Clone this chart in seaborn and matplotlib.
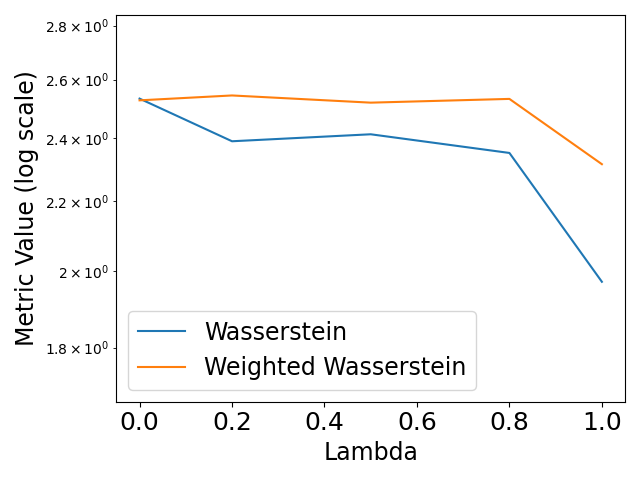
import matplotlib
matplotlib.use("Agg")
import matplotlib.pyplot as plt
import numpy as np
import seaborn as sns

lambdas = [0.0, 0.2, 0.5, 0.8, 1.0]
wasserstein = [2.533, 2.389, 2.412, 2.351, 1.970]
weighted_wasserstein = [2.527, 2.544, 2.519, 2.532, 2.315]

fig, ax = plt.subplots(figsize=(6.4, 4.8), dpi=100)
sns.lineplot(x=lambdas, y=wasserstein, ax=ax, color="#1f77b4", label="Wasserstein")
sns.lineplot(x=lambdas, y=weighted_wasserstein, ax=ax, color="#ff7f0e", label="Weighted Wasserstein")

ax.set_yscale("log")
ax.set_ylim(1.671, 2.841)
ax.set_xlabel("Lambda", fontsize=17)
ax.set_ylabel("Metric Value (log scale)", fontsize=17)
plt.xticks(fontsize=18)
plt.yticks(fontsize=18)
ax.legend(fontsize=17, loc="lower left")

fig.tight_layout()
fig.savefig("out.png", dpi=100)
